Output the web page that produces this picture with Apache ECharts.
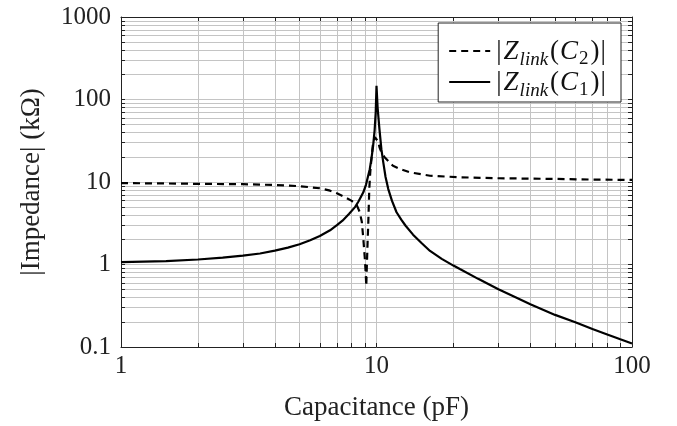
<!DOCTYPE html>
<html><head><meta charset="utf-8">
<script src="https://cdn.jsdelivr.net/npm/echarts@6/dist/echarts.min.js"></script>
<style>html,body{margin:0;padding:0;background:#fff}#c{width:677px;height:426px}</style>
</head><body><div id="c"></div>
<script>
// Capacitance (pF) sample points and impedance (kOhm)
var c1X = [1, 1.5, 2, 2.5, 3, 3.5, 4, 4.5, 5, 5.5, 6, 6.58, 7, 7.36, 7.8, 8.24, 8.5, 8.88, 9.1, 9.41, 9.55, 9.7, 9.83, 9.93, 10, 10.1, 10.27, 10.45, 10.63, 10.85, 11.12, 11.5, 11.98, 12.5, 13, 13.9, 15, 16.2, 18, 20, 21.2, 25, 30, 35, 40, 50, 60, 70, 80, 90, 100];
var c1Y = [1.07, 1.1, 1.15, 1.21, 1.28, 1.36, 1.47, 1.6, 1.76, 1.97, 2.22, 2.6, 3.0, 3.4, 4.1, 4.96, 5.8, 7.5, 9.3, 14.3, 19, 27.4, 42, 70, 147, 80, 43.5, 25, 17.3, 11.5, 8.2, 5.9, 4.3, 3.5, 2.95, 2.3, 1.82, 1.46, 1.17, 0.97, 0.88, 0.67, 0.5, 0.4, 0.33, 0.245, 0.2, 0.165, 0.142, 0.124, 0.11];
var c2X = [1, 1.5, 2, 3, 4, 5, 6, 6.58, 7, 7.53, 8, 8.38, 8.6, 8.76, 8.88, 9.0, 9.07, 9.12, 9.17, 9.23, 9.29, 9.37, 9.45, 9.55, 9.7, 9.85, 10.0, 10.15, 10.27, 10.5, 10.76, 11.6, 12.5, 13.5, 16.2, 21.2, 30, 50, 70, 100];
var c2Y = [9.7, 9.6, 9.5, 9.4, 9.2, 8.9, 8.4, 7.85, 7.3, 6.55, 5.9, 5.2, 4.3, 3.3, 2.05, 1.19, 0.8, 0.55, 1.0, 1.9, 3.3, 8.2, 13, 19, 30, 35, 36, 31, 26.5, 22, 20, 15.7, 14.2, 13.1, 11.9, 11.4, 11.1, 10.9, 10.7, 10.6];
var xTicks = [1, 2, 3, 4, 5, 6, 7, 8, 9, 10, 20, 30, 40, 50, 60, 70, 80, 90, 100];
var xLabels = [1, 10, 100];
var yTicks = [0.1, 0.2, 0.3, 0.4, 0.5, 0.6, 0.7, 0.8, 0.9, 1, 2, 3, 4, 5, 6, 7, 8, 9, 10, 20, 30, 40, 50, 60, 70, 80, 90, 100, 200, 300, 400, 500, 600, 700, 800, 900, 1000];
var yLabels = [0.1, 1, 10, 100, 1000];

function zip(a, b) { return a.map(function (v, i) { return [v, b[i]]; }); }
var FONT = 'Liberation Serif';
var chart = echarts.init(document.getElementById('c'));
function mkX(pos, main) {
  return {
    type: 'log', logBase: 10, min: 1, max: 100, position: pos,
    name: main ? 'Capacitance (pF)' : '', nameLocation: 'middle', nameGap: 47,
    nameTextStyle: { fontFamily: FONT, fontSize: 27, color: '#222' },
    axisLine: { show: true, onZero: false, lineStyle: { color: '#222', width: 1 } },
    axisTick: { show: true, inside: true, length: 4, customValues: xTicks, lineStyle: { color: '#222' } },
    axisLabel: { show: main, customValues: xLabels, fontFamily: FONT, fontSize: 25, color: '#222', margin: 7 },
    splitLine: { show: main, lineStyle: { color: '#c4c4c4', width: 1 } }
  };
}
function mkY(pos, main) {
  return {
    type: 'log', logBase: 10, min: 0.1, max: 1000, position: pos,
    name: main ? '|Impedance| (kΩ)' : '', nameLocation: 'middle', nameGap: 76,
    nameTextStyle: { fontFamily: FONT, fontSize: 27, color: '#222' },
    axisLine: { show: true, onZero: false, lineStyle: { color: '#222', width: 1 } },
    axisTick: { show: true, inside: true, length: 4, customValues: yTicks, lineStyle: { color: '#222' } },
    axisLabel: { show: main, customValues: yLabels, fontFamily: FONT, fontSize: 25, color: '#222', margin: 10,
      formatter: function (v) { return String(+v); } },
    splitLine: { show: main, lineStyle: { color: '#c4c4c4', width: 1 } }
  };
}
var rich = {
  b: { fontFamily: FONT, fontSize: 27, color: '#111', lineHeight: 26, verticalAlign: 'top', padding: [0, 1, 0, 1] },
  n: { fontFamily: FONT, fontSize: 27, color: '#111', lineHeight: 26, verticalAlign: 'top' },
  i: { fontFamily: FONT, fontSize: 27, fontStyle: 'italic', color: '#111', lineHeight: 26, verticalAlign: 'top', padding: [0, 1, 0, 1] },
  s: { fontFamily: FONT, fontSize: 19, fontStyle: 'italic', color: '#111', verticalAlign: 'top', lineHeight: 18, padding: [12, 2, 0, 0] },
  d: { fontFamily: FONT, fontSize: 19, color: '#111', verticalAlign: 'top', lineHeight: 18, padding: [12, 2, 0, 0] }
};
chart.setOption({
  animation: false,
  grid: { left: 121, right: 45, top: 17, bottom: 77 },
  xAxis: [mkX('bottom', true), mkX('top', false)],
  yAxis: [mkY('left', true), mkY('right', false)],
  legend: {
    orient: 'vertical', right: 56, top: 23,
    data: ['C2', 'C1'],
    backgroundColor: '#fff', borderColor: '#222', borderWidth: 1,
    padding: [15, 14, 2, 10], itemGap: 0, itemWidth: 41, itemHeight: 14,
    itemStyle: { opacity: 0 },
    textStyle: { rich: rich },
    formatter: function (name) {
      var k = name === 'C2' ? '2' : '1';
      return '{b||}{i|Z}{s|link}{n|(}{i|C}{d|' + k + '}{n|)}{b||}';
    }
  },
  series: [
    { name: 'C2', type: 'line', data: zip(c2X, c2Y), symbol: 'none', z: 3,
      lineStyle: { color: '#000', width: 2.2, type: [7, 5] }, itemStyle: { color: '#000' } },
    { name: 'C1', type: 'line', data: zip(c1X, c1Y), symbol: 'none', z: 4,
      lineStyle: { color: '#000', width: 2.2 }, itemStyle: { color: '#000' } }
  ]
});
</script></body></html>
